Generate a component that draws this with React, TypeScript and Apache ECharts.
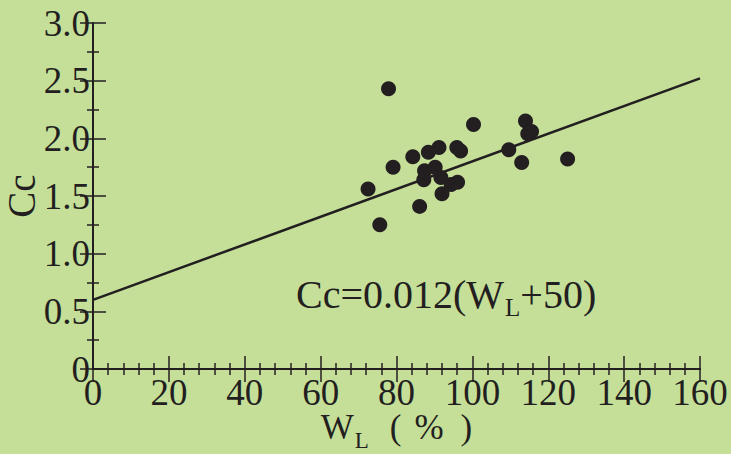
import React, { useEffect, useRef } from "react";
import * as echarts from "echarts";

const xTicks = [0, 20, 40, 60, 80, 100, 120, 140, 160];
const yTicks = [0, 0.5, 1.0, 1.5, 2.0, 2.5, 3.0];

const wl = [72.5, 75.6, 77.9, 79.1, 84.3, 86.1, 87.2, 87.4, 88.4, 90.2, 91.2, 91.7, 92.0, 94.4, 96.1, 95.9, 96.9, 100.3, 109.6, 113.0, 114.0, 114.6, 115.6, 125.1];
const cc = [1.56, 1.25, 2.43, 1.75, 1.84, 1.41, 1.64, 1.72, 1.88, 1.75, 1.92, 1.66, 1.52, 1.60, 1.62, 1.92, 1.89, 2.12, 1.90, 1.79, 2.15, 2.04, 2.06, 1.82];

const fitX = [0, 160];
const fitY = [0.6, 2.52];

const INK = "#231f20";
const BG = "#c5df99";
const FONT = "Liberation Serif";

export default function App() {
  const ref = useRef<HTMLDivElement>(null);
  useEffect(() => {
    if (!ref.current) return;
    const chart = echarts.init(ref.current, null, { renderer: "svg" });
    const axisLine = { show: true, lineStyle: { color: INK, width: 2 } };
    const tick = { show: true, inside: true, length: 13, lineStyle: { color: INK, width: 1.5 } };
    const minor = (n: number) => ({ show: true, splitNumber: n, length: 6, lineStyle: { color: INK, width: 1.5 } });
    chart.setOption({
      animation: false,
      backgroundColor: BG,
      grid: { left: 93, right: 31, top: 23, bottom: 85, containLabel: false, outerBoundsMode: "none" },
      xAxis: [
        {
          type: "value", min: xTicks[0], max: xTicks[xTicks.length - 1], interval: 20,
          axisLine, axisTick: tick, minorTick: minor(5), splitLine: { show: false },
          axisLabel: { color: INK, fontFamily: FONT, fontSize: 37, margin: 5 },
          name: "{a|W}{s|L}{p|(}{q|%}{r|)}", nameLocation: "middle", nameGap: 38, nameMoveOverlap: false,
          nameTextStyle: {
            color: INK, fontFamily: FONT,
            rich: {
              a: { color: INK, fontFamily: FONT, fontSize: 35, lineHeight: 40 },
              s: { color: INK, fontFamily: FONT, fontSize: 23, lineHeight: 40, padding: [27, 0, 0, 1] },
              p: { color: INK, fontFamily: FONT, fontSize: 35, lineHeight: 40, padding: [0, 0, 0, 21] },
              q: { color: INK, fontFamily: FONT, fontSize: 35, lineHeight: 40, padding: [0, 0, 0, 13] },
              r: { color: INK, fontFamily: FONT, fontSize: 35, lineHeight: 40, padding: [0, 0, 0, 17] },
            },
          },
        },
        {
          type: "value", position: "top", min: 0, max: 160, interval: 20,
          axisLine, axisTick: tick, minorTick: minor(5), axisLabel: { show: false }, splitLine: { show: false },
        },
      ],
      yAxis: [
        {
          type: "value", min: yTicks[0], max: yTicks[yTicks.length - 1], interval: 0.5,
          axisLine, axisTick: tick, minorTick: minor(2), splitLine: { show: false },
          axisLabel: {
            color: INK, fontFamily: FONT, fontSize: 37, margin: 3,
            formatter: (v: number) => (v === 0 ? "0" : v.toFixed(1)),
          },
          name: "Cc", nameLocation: "middle", nameGap: 52, nameMoveOverlap: false,
          nameTextStyle: { color: INK, fontFamily: FONT, fontSize: 39 },
        },
        {
          type: "value", position: "right", min: 0, max: 3, interval: 0.5,
          axisLine, axisTick: tick, minorTick: minor(2), axisLabel: { show: false }, splitLine: { show: false },
        },
      ],
      graphic: [
        {
          type: "text", left: 296, top: 269,
          style: {
            text: "{a|Cc=0.012(W}{s|L}{a|+50)}",
            rich: {
              a: { fill: INK, fontFamily: FONT, fontSize: 40, lineHeight: 44 },
              s: { fill: INK, fontFamily: FONT, fontSize: 25, lineHeight: 44, padding: [26, 0, 0, 1] },
            },
          },
        },
      ],
      series: [
        {
          type: "line", data: fitX.map((x, i) => [x, fitY[i]]), symbol: "none",
          lineStyle: { color: INK, width: 2.5 }, z: 2,
        },
        {
          type: "scatter", data: wl.map((x, i) => [x, cc[i]]), symbolSize: 15,
          itemStyle: { color: INK, opacity: 1 }, z: 3,
        },
      ],
    });
    return () => chart.dispose();
  }, []);
  return <div ref={ref} style={{ position: "fixed", left: 0, top: 0, width: 731, height: 454 }} />;
}
